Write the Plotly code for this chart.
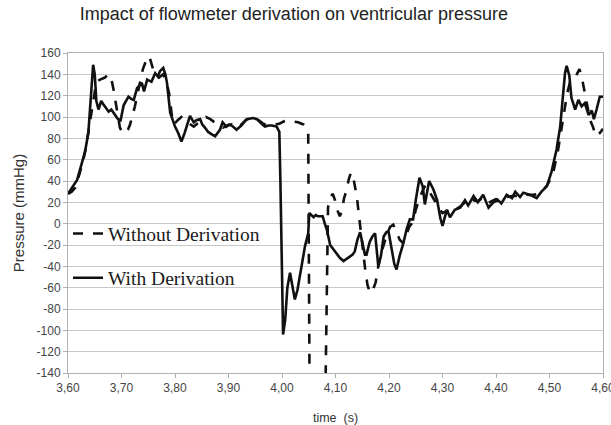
import plotly.graph_objects as go

# ---- data ----
t_with = [3.600, 3.610, 3.617, 3.626, 3.632, 3.638, 3.642, 3.645, 3.647, 3.650,
          3.653, 3.657, 3.662, 3.666, 3.670, 3.676, 3.681, 3.686, 3.692, 3.698,
          3.704, 3.713, 3.718, 3.723, 3.729, 3.738, 3.742, 3.748, 3.756, 3.763,
          3.768, 3.772, 3.778, 3.782, 3.785, 3.791, 3.800, 3.806, 3.812, 3.818,
          3.824, 3.828, 3.835, 3.840, 3.847, 3.851, 3.856, 3.862, 3.868, 3.875,
          3.884, 3.889, 3.896, 3.901, 3.906, 3.915, 3.924, 3.934, 3.946, 3.953,
          3.959, 3.968, 3.975, 3.981, 3.990, 3.995, 3.997, 4.000, 4.002, 4.006,
          4.010, 4.015, 4.020, 4.024, 4.029, 4.034, 4.043, 4.049, 4.051, 4.055,
          4.059, 4.063, 4.067, 4.072, 4.076, 4.080, 4.084, 4.090, 4.096, 4.102,
          4.108, 4.115, 4.121, 4.127, 4.132, 4.136, 4.141, 4.146, 4.150, 4.155,
          4.158, 4.164, 4.169, 4.174, 4.180, 4.185, 4.190, 4.195, 4.199, 4.205,
          4.210, 4.214, 4.220, 4.227, 4.233, 4.239, 4.245, 4.250, 4.257, 4.263,
          4.267, 4.275, 4.283, 4.290, 4.296, 4.300, 4.308, 4.314, 4.323, 4.333,
          4.342, 4.348, 4.358, 4.366, 4.376, 4.386, 4.395, 4.404, 4.410, 4.420,
          4.430, 4.436, 4.445, 4.451, 4.464, 4.476, 4.485, 4.495, 4.504, 4.513,
          4.520, 4.525, 4.529, 4.532, 4.537, 4.541, 4.548, 4.554, 4.560, 4.566,
          4.573, 4.579, 4.583, 4.588, 4.594, 4.600]
p_with = [28, 35, 41, 57, 68, 85, 110, 135, 149, 140,
          115, 107, 115, 112, 109, 105, 107, 103, 99, 96,
          111, 119, 117, 116, 127, 132, 124, 135, 133, 141,
          138, 143, 146, 140, 132, 104, 91, 85, 77, 85,
          96, 101, 95, 97, 98, 93, 90, 86, 84, 82,
          88, 95, 91, 93, 92, 88, 92, 98, 99, 98,
          95, 91, 92, 92, 91, 86, 40, -60, -104, -90,
          -60, -46, -60, -71, -62, -46, -21, -9, 10, 8,
          6, 8, 7, 7, 7, 0, -6, -20, -24, -27,
          -32, -35, -33, -31, -29, -26, -15, -8, -18, -29,
          -29, -17, -12, -9, -40, -30, -12, -8, -7, -25,
          -38, -43, -30, -18, -5, 4, 4, 22, 43, 35,
          18, 40, 32, 22, 5, -2, 13, 6, 13, 15,
          22, 17, 26, 20, 27, 15, 20, 22, 19, 27,
          24, 30, 25, 29, 27, 24, 30, 35, 49, 69,
          91, 119, 141, 148, 139, 118, 107, 116, 110, 113,
          102, 106, 98, 107, 119, 119]

t_without = [3.600, 3.607, 3.614, 3.622, 3.628, 3.633, 3.638, 3.643, 3.647, 3.650,
             3.653, 3.660, 3.669, 3.676, 3.680, 3.685, 3.691, 3.697, 3.702, 3.707,
             3.712, 3.716, 3.725, 3.731, 3.735, 3.740, 3.746, 3.752, 3.756, 3.762,
             3.770, 3.778, 3.784, 3.789, 3.794, 3.798, 3.805, 3.812, 3.820, 3.828,
             3.835, 3.842, 3.850, 3.858, 3.866, 3.874, 3.882, 3.890, 3.898, 3.906,
             3.915, 3.924, 3.932, 3.940, 3.948, 3.956, 3.964, 3.972, 3.980, 3.988,
             3.996, 4.004, 4.012, 4.020, 4.030, 4.040, 4.046, 4.049, 4.052, 4.080,
             4.086, 4.090, 4.095, 4.099, 4.104, 4.108, 4.112, 4.116, 4.120, 4.125,
             4.129, 4.133, 4.137, 4.140, 4.144, 4.148, 4.152, 4.156, 4.160, 4.165,
             4.170, 4.175, 4.180, 4.185, 4.190, 4.196, 4.202, 4.208, 4.214, 4.220,
             4.226, 4.232, 4.238, 4.245, 4.250, 4.256, 4.262, 4.268, 4.273, 4.279,
             4.285, 4.292, 4.300, 4.308, 4.316, 4.324, 4.333, 4.342, 4.350, 4.358,
             4.366, 4.375, 4.384, 4.392, 4.400, 4.410, 4.420, 4.430, 4.440, 4.450,
             4.460, 4.470, 4.478, 4.486, 4.494, 4.500, 4.507, 4.516, 4.523, 4.529,
             4.533, 4.538, 4.542, 4.548, 4.553, 4.556, 4.560, 4.564, 4.568, 4.572,
             4.576, 4.581, 4.587, 4.594, 4.600]
p_without = [28, 30, 34, 48, 58, 70, 85, 100, 113, 122,
             133, 135, 137, 140, 138, 126, 107, 90, 85, 85,
             88, 93, 110, 125, 135, 145, 153, 157, 150, 140,
             137, 140, 133, 122, 102, 93, 97, 100, 96, 93,
             91, 94, 97, 100, 98, 95, 92, 90, 92, 93,
             90, 93, 97, 99, 99, 97, 94, 92, 92, 93,
             94, 96, 97, 96, 95, 93, 90, 85, -200, -200,
             15, 25, 28, 22, 12, 7, 12, 24, 30, 42,
             48, 44, 35, 25, 7, -10, -30, -45, -58, -65,
             -62, -55, -40, -28, -20, -10, -3, -1, -8, -15,
             -18, -10, -3, 2, 13, 22, 30, 36, 32, 27,
             22, 15, 10, 12, 10, 13, 16, 20, 18, 22,
             21, 24, 19, 21, 23, 22, 25, 26, 26, 28,
             27, 27, 28, 31, 35, 40, 48, 69, 91, 110,
             122, 132, 135, 137, 142, 145, 138, 128, 120, 108,
             97, 91, 82, 85, 89]

x_tick_vals = [3.60, 3.70, 3.80, 3.90, 4.00, 4.10, 4.20, 4.30, 4.40, 4.50, 4.60]
x_tick_text = ["3,60", "3,70", "3,80", "3,90", "4,00", "4,10", "4,20", "4,30", "4,40", "4,50", "4,60"]
y_tick_vals = [-140, -120, -100, -80, -60, -40, -20, 0, 20, 40, 60, 80, 100, 120, 140, 160]
y_tick_text = ["-140", "-120", "-100", "-80", "-60", "-40", "-20", "0", "20", "40",
               "60", "80", "100", "120", "140", "160"]

fig = go.Figure()
fig.add_trace(go.Scatter(
    x=t_without, y=p_without, mode="lines", name="Without Derivation",
    legendgroup="a",
    line=dict(color="#111111", width=2.6, dash="10px,10px"),
))
fig.add_trace(go.Scatter(
    x=t_with, y=p_with, mode="lines", name="With Derivation",
    legendgroup="b",
    line=dict(color="#111111", width=2.6),
))

grid = "#c8c8c8"
axis_col = "#b0b0b0"
fig.update_layout(
    width=611, height=425,
    margin=dict(l=68, r=8, t=53, b=52),
    paper_bgcolor="white", plot_bgcolor="white",
    font=dict(family="Liberation Sans, Arial, sans-serif", color="#333333", size=12),
    title=dict(text="Impact of flowmeter derivation on ventricular pressure",
               x=0.481, xanchor="center", y=0.967, yanchor="middle",
               font=dict(size=18, color="#222222")),
    showlegend=True,
    legend=dict(x=0.0, xanchor="left", y=0.496, yanchor="top",
                bgcolor="rgba(0,0,0,0)", traceorder="grouped", tracegroupgap=16,
                font=dict(family="Liberation Serif, Times New Roman, serif", size=19.5, color="#1a1a1a")),
    xaxis=dict(range=[3.6, 4.6], tickvals=x_tick_vals, ticktext=x_tick_text,
               automargin=False, ticklabeloverflow="allow",
               showgrid=False, zeroline=False, showline=True, linecolor=axis_col, linewidth=1,
               mirror=True, ticks="outside", ticklen=4, tickcolor=axis_col,
               tickfont=dict(size=12, color="#444444"),
               title=dict(text="time \u00a0(s)", font=dict(size=12.5, color="#333333"), standoff=20)),
    yaxis=dict(range=[-140, 160], tickvals=y_tick_vals, ticktext=y_tick_text,
               automargin=False,
               showgrid=True, gridcolor=grid, gridwidth=1, zeroline=False,
               showline=True, linecolor=axis_col, linewidth=1, mirror=True,
               ticks="outside", ticklen=4, tickcolor=axis_col,
               tickfont=dict(size=12, color="#444444"),
               title=dict(text="Pressure (mmHg)", font=dict(size=15, color="#333333"), standoff=8)),
)

fig.write_html("out.html",
               config={"displayModeBar": False},
               post_script="document.body.style.margin='0';document.body.style.padding='0';")
